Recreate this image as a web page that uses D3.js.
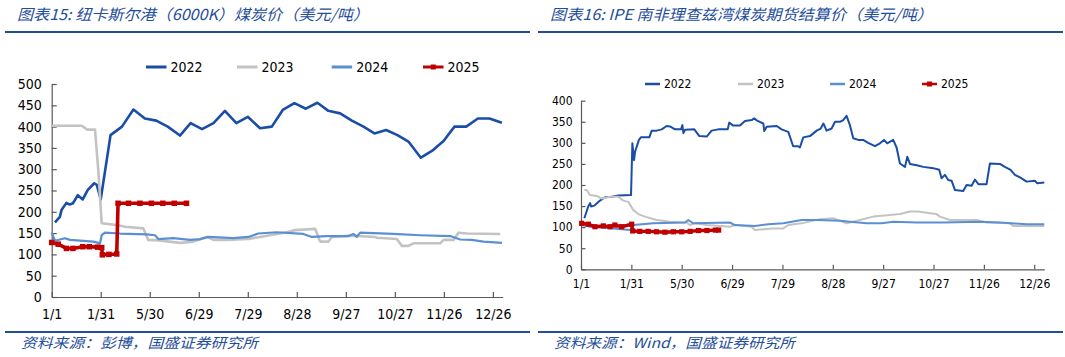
<!DOCTYPE html>
<html><head><meta charset="utf-8">
<script src="https://cdn.jsdelivr.net/npm/d3@7"></script>
<style>
html,body{margin:0;padding:0;background:#fff;}
svg{display:block;}
.tick text{font-family:"DejaVu Sans Condensed","DejaVu Sans",sans-serif;fill:#000;}
.cjk{font-family:"Noto Sans CJK SC",sans-serif;font-style:italic;fill:#1f4e9a;}
</style></head>
<body>
<svg id="c" width="1065" height="357"></svg>
<script>
// ---------- DATA ----------
const seriesNames = ["2022","2023","2024","2025"];
const xTickDays = [0,30,60,90,120,150,180,210,240,270];
const xTickLabels = ["1/1","1/31","5/30","6/29","7/29","8/28","9/27","10/27","11/26","12/26"];
const leftYTicks = [0,50,100,150,200,250,300,350,400,450,500];
const rightYTicks = [0,50,100,150,200,250,300,350,400];

// Left: Newcastle 6000K  [day, USD/t]
const left2022 = [[2,175],[5,188],[6,204],[9,221],[11,217],[13,220],[16,239],[19,229],[22,251],[26,267],[27.6,263],[30,229],[36,380],[43,400],[50,440],[57,419],[64,414],[71,400],[78.5,379],[85,408],[92,394],[99,408],[106,437],[113,408],[120,423],[127.5,396],[134.7,400],[141.4,439],[148.5,455],[155.5,442],[162.6,456],[169.3,437],[176.5,431],[183.7,414],[190.8,400],[197.5,384],[204.7,392],[211.6,380],[218.3,365],[225.9,327],[232.7,343],[239.8,366],[246.5,400],[253.7,400],[260.8,419],[267.9,419],[275.5,409]];
const left2023 = [[0,402],[10,402],[18.4,402],[21.8,393],[26.5,393],[28.5,298],[30.6,173],[33.2,172],[39.8,169],[44.9,165],[56.1,161],[59.1,134],[66,133],[72,130],[78.6,127],[86.7,130],[94.9,141],[98.9,134],[107.1,134],[120.4,136],[127.5,141],[143.9,152],[149,157],[161.2,160],[164.3,130],[169.4,130],[171.4,141],[183.7,144],[197.9,141],[199,139],[211.2,136],[214.3,120],[218.3,120],[221.4,126],[237.7,126],[239.8,134],[245.9,134],[248.9,151],[254.1,149],[274.5,148]];
const left2024 = [[0,151],[2,132],[8.1,138],[11.2,134],[25.5,130],[29.6,126],[30.6,145],[32.6,151],[41.8,149],[58.2,147],[63.2,145],[65.3,136],[74.4,138],[84.7,134],[90.8,136],[95.9,141],[111.2,138],[120.4,141],[126.5,149],[137.8,152],[154,148],[159.2,141],[168.4,143],[181.6,143],[184.7,148],[186.7,141],[188.8,151],[209.1,148],[225.5,145],[243.9,143],[250,135],[257.1,134],[264.2,130],[275.5,127]];
const left2025 = [[0,128],[4,124],[9,114],[13,114],[19,118],[23,118],[28,117],[30.6,116],[31,99],[35,100],[39.8,101],[40.6,220],[47,220],[54,220],[61,220],[68,220],[75,220],[82.5,220]];

// Right: IPE Richards Bay futures settlement  [day, USD/t]
const right2022 = [[2,121],[4.3,149],[5.4,157],[6,149],[7.9,151],[11.3,163],[14.3,171],[18.3,172],[22.2,175],[29.8,176],[30.6,299],[31.6,259],[32.2,279],[34.5,307],[35.7,313],[40.7,313],[42.1,329],[45.1,329],[48.1,332],[51,340],[53,339],[56,332],[59.6,332],[60.4,342],[61,323],[62,331],[67.5,332],[70.5,316],[74.9,315],[77.8,329],[81.8,332],[87.4,332],[88.3,348],[90.7,341],[94.7,341],[97.7,352],[101.7,354],[103.2,358],[105.2,352],[108.6,346],[109.2,328],[110.6,338],[116.6,340],[119.5,332],[123.5,326],[126.4,292],[129.4,292],[130.4,289],[132.4,313],[136.4,316],[140.4,329],[142.8,334],[144.4,346],[146.3,329],[149.3,334],[151.3,350],[154.3,350],[156.2,354],[158.2,364],[160.2,342],[162.2,311],[165.2,307],[168.1,307],[171.1,300],[175.1,292],[178.1,299],[180.5,307],[182.4,299],[186,307],[188,289],[190,251],[193,243],[194.4,267],[196,250],[200,247],[203.9,243],[209.8,240],[213.4,236],[214.8,216],[216.8,224],[218.8,212],[220.8,210],[222.8,188],[227.7,186],[229.7,200],[232.7,198],[234.7,213],[236.7,202],[241.6,202],[243.6,251],[249.6,250],[252.5,243],[255.9,236],[258.5,224],[261.5,218],[265.5,208],[270.4,210],[271.8,204],[276,206]];
const right2023 = [[2,188],[3.4,188],[5.4,176],[9.4,174],[12.3,168],[17.3,172],[22.2,172],[25.2,163],[28.2,160],[31.1,141],[34.1,131],[38.1,125],[45.1,117],[53,113],[63,111],[64.9,105],[67.9,109],[74.9,105],[88.7,101],[91.7,105],[101.7,101],[103.6,93],[113.6,97],[120.5,97],[123.5,105],[131.4,109],[142.3,119],[150.3,121],[158.2,109],[166.2,117],[174.1,125],[184,129],[190,131],[196,137],[200.9,137],[207.9,133],[211.8,131],[213.8,125],[219.8,117],[235.7,117],[241.6,111],[255.5,109],[257.5,103],[276,103]];
const right2024 = [[0.4,105],[5.4,101],[19.2,97],[29.2,93],[31.1,105],[43.1,109],[62,111],[63.9,117],[66.9,109],[88.7,111],[91.7,105],[103.6,103],[111.6,107],[120.5,109],[131.4,117],[140.4,117],[154.3,115],[160.2,113],[170.2,109],[179.1,109],[186,113],[200,111],[215.8,111],[237.6,113],[249.6,111],[265.5,107],[276,107]];
const right2025 = [[0.4,109],[4.4,107],[8.3,101],[13.3,103],[17.3,101],[20.2,105],[24.2,101],[30.2,107],[30.8,91],[35,90],[40,90],[45,89],[50,88],[55,89],[60,89],[65,90],[70,92],[75,92],[80,93],[82,93]];

const colors = {"2022":"#1a4ea6","2023":"#c3c3c3","2024":"#5b8fd3","2025":"#c00000"};

// ---------- DRAW ----------
const svg = d3.select("#c");
svg.append("rect").attr("width",1065).attr("height",357).attr("fill","#fff");

function header(x0,x1,title,source,titleW,srcW){
  svg.append("text").attr("class","cjk").attr("x",x0+12).attr("y",20)
    .attr("font-size",15).attr("textLength",titleW).attr("lengthAdjust","spacingAndGlyphs").text(title);
  svg.append("line").attr("x1",x0).attr("x2",x1).attr("y1",32).attr("y2",32)
    .attr("stroke","#1f4e9a").attr("stroke-width",2.2);
  svg.append("line").attr("x1",x0).attr("x2",x1).attr("y1",332).attr("y2",332)
    .attr("stroke","#1f4e9a").attr("stroke-width",2.2);
  svg.append("text").attr("class","cjk").attr("x",x0+16).attr("y",348)
    .attr("font-size",14).attr("textLength",srcW).attr("lengthAdjust","spacingAndGlyphs").text(source);
}
header(5,530,"图表15: 纽卡斯尔港（6000K）煤炭价（美元/吨）","资料来源：彭博，国盛证券研究所",352,237);
header(538,1063,"图表16: IPE 南非理查兹湾煤炭期货结算价（美元/吨）","资料来源：Wind，国盛证券研究所",383,241);

function panel(cfg){
  const x = d3.scaleLinear().domain([0,276]).range([cfg.x0,cfg.x1]);
  const y = d3.scaleLinear().domain([0,cfg.yMax]).range([cfg.y0,cfg.y1]);
  const g = svg.append("g");
  const xa = g.append("g").attr("transform",`translate(0,${cfg.y0})`)
    .call(d3.axisBottom(x).tickValues(xTickDays).tickFormat((d,i)=>xTickLabels[i]).tickSizeInner(-cfg.tick).tickSizeOuter(0).tickPadding(cfg.xPad));
  const ya = g.append("g").attr("transform",`translate(${cfg.x0},0)`)
    .call(d3.axisLeft(y).tickValues(cfg.yTicks).tickSizeInner(-cfg.tick).tickSizeOuter(0).tickPadding(cfg.yPad));
  [xa,ya].forEach(a=>{
    a.select(".domain").attr("stroke","#595959").attr("stroke-width",1.2);
    a.selectAll(".tick line").attr("stroke","#595959").attr("stroke-width",1.2);
    a.selectAll(".tick text").attr("font-size",cfg.fs);
  });
  const line = d3.line().x(d=>x(d[0])).y(d=>y(d[1]));
  const data = {"2022":cfg.s[0],"2023":cfg.s[1],"2024":cfg.s[2],"2025":cfg.s[3]};
  seriesNames.forEach(n=>{
    g.append("path").datum(data[n]).attr("fill","none").attr("stroke",colors[n])
      .attr("stroke-width",cfg.lw[n]).attr("stroke-linejoin","round").attr("d",line);
  });
  const m = cfg.ms;
  g.selectAll(".mk").data(data["2025"]).enter().append("rect")
    .attr("x",d=>x(d[0])-m/2).attr("y",d=>y(d[1])-m/2).attr("width",m).attr("height",m)
    .attr("fill",colors["2025"]);
  seriesNames.forEach((n,i)=>{
    const lx = cfg.legX[i];
    g.append("line").attr("x1",lx).attr("x2",lx+cfg.legL).attr("y1",cfg.legY).attr("y2",cfg.legY)
      .attr("stroke",colors[n]).attr("stroke-width",cfg.legW);
    if(n==="2025"){
      g.append("rect").attr("x",lx+cfg.legL/2-2.5).attr("y",cfg.legY-2.5).attr("width",5).attr("height",5).attr("fill",colors[n]);
    }
    g.append("text").attr("x",lx+cfg.legL+4).attr("y",cfg.legY).attr("dy","0.36em")
      .attr("font-family","\"DejaVu Sans Condensed\",\"DejaVu Sans\",sans-serif").attr("font-size",cfg.fs).text(n);
  });
}

panel({x0:51.7,x1:502.7,y0:297,y1:84,yMax:500,yTicks:leftYTicks,tick:5,xPad:12,yPad:10,fs:14,
  s:[left2022,left2023,left2024,left2025],
  lw:{"2022":2.6,"2023":2.6,"2024":2.2,"2025":3.6},ms:5.5,
  legX:[146,237,331.7,423],legL:20.5,legY:67,legW:3});
panel({x0:581,x1:1044.3,y0:269.3,y1:100.7,yMax:400,yTicks:rightYTicks,tick:4.5,xPad:10,yPad:8.5,fs:12,
  s:[right2022,right2023,right2024,right2025],
  lw:{"2022":2,"2023":2,"2024":2,"2025":3.4},ms:5.2,
  legX:[645,738,830,922],legL:15,legY:84,legW:2.5});
</script>
</body></html>
